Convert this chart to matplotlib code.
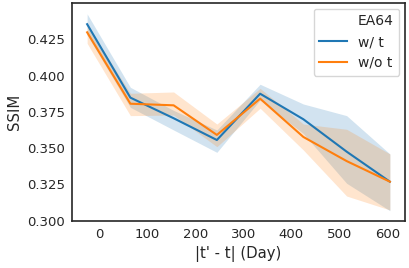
import matplotlib as mpl
mpl.use('Agg')
import matplotlib.pyplot as plt
from matplotlib.lines import Line2D

# data
dayDiff = [-25, 65, 155, 245, 335, 425, 515, 605]

ssimWithT   = [0.4354, 0.3848, 0.3706, 0.3556, 0.3875, 0.3699, 0.3476, 0.3269]
ciLowWithT  = [0.4280, 0.3781, 0.3625, 0.3471, 0.3832, 0.3600, 0.3258, 0.3069]
ciHighWithT = [0.4425, 0.3919, 0.3760, 0.3625, 0.3940, 0.3804, 0.3724, 0.3460]

ssimNoT   = [0.4298, 0.3806, 0.3795, 0.3591, 0.3841, 0.3577, 0.3411, 0.3269]
ciLowNoT  = [0.4222, 0.3724, 0.3728, 0.3510, 0.3775, 0.3487, 0.3170, 0.3074]
ciHighNoT = [0.4349, 0.3878, 0.3887, 0.3666, 0.3912, 0.3666, 0.3630, 0.3460]

legendTitle = 'EA64'
seriesLabel = ['w/ t', 'w/o t']

#------------------------------------------------------------------------------
dark = '#262626'
plt.rcParams['text.color'] = dark
plt.rcParams['axes.labelcolor'] = dark
plt.rcParams['xtick.color'] = dark
plt.rcParams['ytick.color'] = dark

fig = plt.figure(figsize=(4.09, 2.68), dpi=100)
ax1 = fig.add_axes([72/409, 1-221/268, (405-72)/409, (221-3)/268])

vColor = ['#1f77b4', '#ff7f0e']
vY    = [ssimWithT, ssimNoT]
vLow  = [ciLowWithT, ciLowNoT]
vHigh = [ciHighWithT, ciHighNoT]
handles = [Line2D([], [], linestyle='none', marker='none')]  # title entry, no handle
labels = [legendTitle]
for i in range(2):
    ax1.fill_between(dayDiff, vLow[i], vHigh[i], color=vColor[i], alpha=0.2, linewidth=0)
    h, = ax1.plot(dayDiff, vY[i], color=vColor[i], linewidth=1.5)
    handles.append(h)
    labels.append(seriesLabel[i])

ax1.set_xlim(-56.5, 636.5)
ax1.set_ylim(0.2998, 0.4500)
ax1.set_xticks([0, 100, 200, 300, 400, 500, 600])
ax1.set_yticks([0.300, 0.325, 0.350, 0.375, 0.400, 0.425])
ax1.tick_params(length=0, labelsize=9.5, pad=5)

for s in ax1.spines.values():
    s.set_color(dark)
    s.set_linewidth(1.2)

ax1.set_xlabel("|t' - t| (Day)", fontsize=10.7, labelpad=4)
ax1.set_ylabel('SSIM', fontsize=10.7, labelpad=4)

ax1.legend(handles, labels, loc='upper right', fontsize=10, framealpha=0.8,
           borderaxespad=0.4)

plt.savefig('out.png', dpi=100)
